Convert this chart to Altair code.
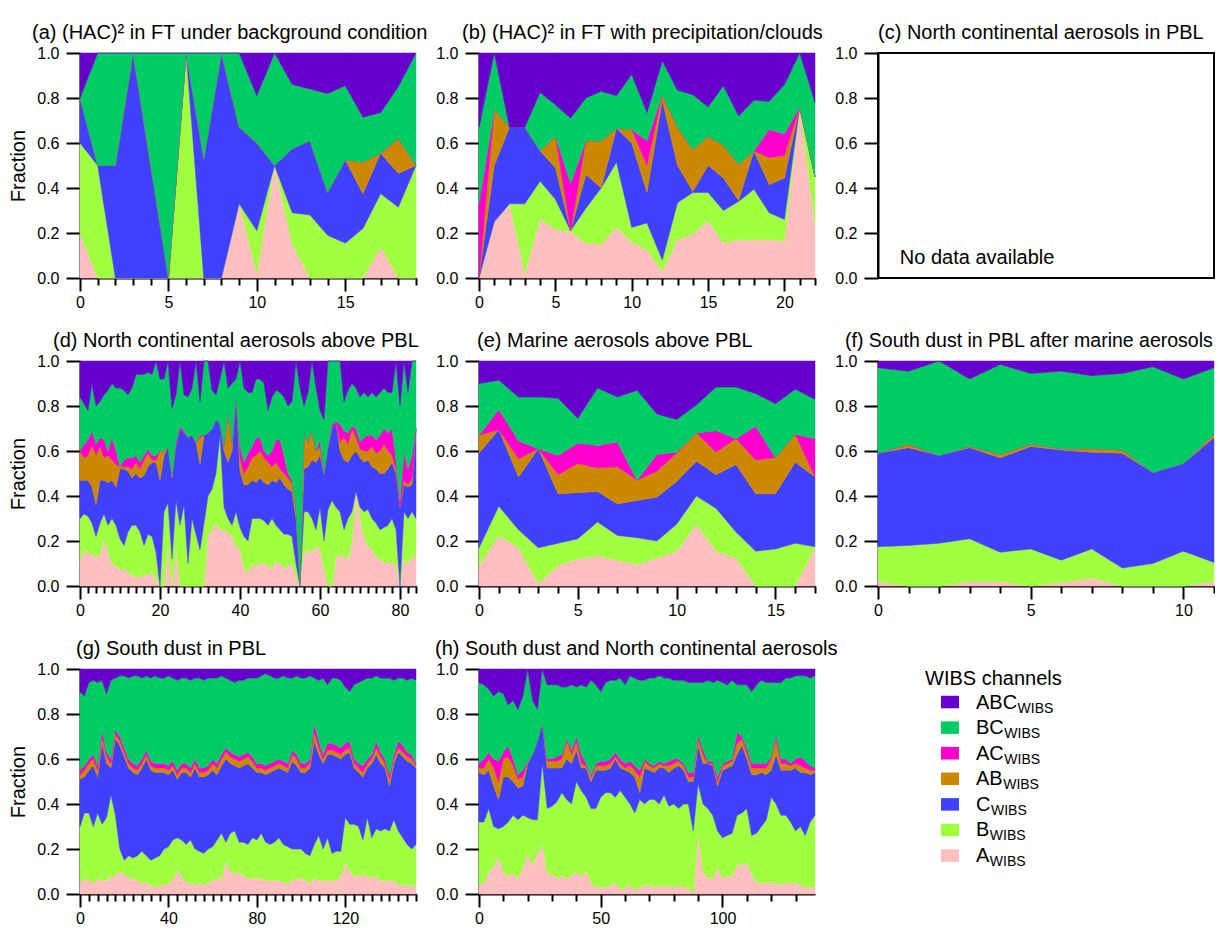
import altair as alt
import pandas as pd

FONT = "Liberation Sans"
BIG = 20
SMALL = 16
W, H = 336, 225

# channel order, bottom to top, and colours
CH = ["A", "B", "C", "AB", "AC", "BC", "ABC"]
COLORS = ["#FFBFBF", "#A0FF40", "#4040FF", "#CC8800", "#FF00CC", "#00CC66", "#6600CC"]
YT = [0, 0.2, 0.4, 0.6, 0.8, 1.0]

# ---------------- data: cumulative upper edge of each channel band (fraction) ----------------
# (a)
a_x = list(range(20))
a_A = [0.20,0.00,0.00,0.00,0.00,0.00,0.00,0.00,0.00,0.33,0.02,0.50,0.15,0.00,0.00,0.00,0.00,0.14,0.00,0.00]
a_B = [0.60,0.50,0.00,0.00,0.00,0.00,1.00,0.00,0.00,0.33,0.21,0.50,0.29,0.28,0.19,0.155,0.22,0.375,0.315,0.50]
a_C = [0.80,0.50,0.50,1.00,0.50,0.00,1.00,0.53,1.00,0.67,0.60,0.50,0.575,0.61,0.38,0.525,0.375,0.555,0.465,0.50]
a_AB = [0.80,0.50,0.50,1.00,0.50,0.00,1.00,0.53,1.00,0.67,0.60,0.50,0.575,0.61,0.38,0.525,0.515,0.555,0.62,0.50]
a_AC = [0.80,0.50,0.50,1.00,0.50,0.00,1.00,0.53,1.00,0.67,0.60,0.50,0.575,0.61,0.38,0.525,0.515,0.555,0.62,0.50]
a_BC = [0.80,1.00,1.00,1.00,1.00,1.00,1.00,1.00,1.00,1.00,0.81,1.00,0.86,0.84,0.82,0.855,0.715,0.735,0.85,1.00]

# (b)
b_x = list(range(23))
b_A = [0.00,0.25,0.33,0.02,0.265,0.215,0.205,0.155,0.15,0.225,0.16,0.125,0.03,0.17,0.195,0.255,0.155,0.17,0.17,0.17,0.165,0.76,0.24]
b_B = [0.00,0.25,0.33,0.33,0.43,0.35,0.21,0.31,0.40,0.515,0.225,0.245,0.08,0.335,0.38,0.38,0.30,0.34,0.395,0.29,0.26,0.76,0.45]
b_C = [0.00,0.50,0.67,0.67,0.565,0.49,0.21,0.46,0.40,0.665,0.60,0.38,0.79,0.50,0.385,0.50,0.445,0.345,0.565,0.415,0.445,0.76,0.45]
b_AB = [0.00,0.75,0.67,0.67,0.565,0.63,0.21,0.61,0.61,0.665,0.66,0.50,0.815,0.67,0.57,0.63,0.59,0.505,0.565,0.535,0.545,0.76,0.45]
b_AC = [0.33,0.75,0.67,0.67,0.565,0.63,0.42,0.61,0.61,0.665,0.66,0.61,0.815,0.67,0.57,0.63,0.59,0.505,0.565,0.66,0.64,0.76,0.45]
b_BC = [0.67,1.00,0.67,0.67,0.825,0.77,0.71,0.80,0.83,0.81,0.905,0.735,0.965,0.835,0.815,0.76,0.855,0.72,0.79,0.785,0.86,1.00,0.78]

# (d)
d_x = list(range(85))
d_A = [0.11,0.16,0.15,0.14,0.13,0.14,0.21,0.15,0.10,0.09,0.07,0.08,0.06,0.05,0.04,0.04,0.05,0.05,0.06,0.03,
       0.00,0.00,0.18,0.00,0.17,0.00,0.00,0.00,0.00,0.00,0.00,0.00,0.23,0.25,0.28,0.25,0.25,0.24,0.22,0.18,
       0.16,0.08,0.06,
       0.10,0.09,0.10,0.10,0.09,0.08,0.11,0.10,0.08,0.09,0.10,0.04,0.00,0.15,0.16,0.15,0.18,0.16,0.08,0.00,
       0.00,0.13,0.14,0.13,0.12,0.20,0.42,0.30,0.22,0.18,0.16,0.13,0.12,0.10,0.11,0.10,0.10,0.00,0.12,0.10,
       0.13,0.13]
d_B = [0.30,0.32,0.31,0.28,0.22,0.28,0.32,0.27,0.30,0.27,0.21,0.18,0.24,0.27,0.27,0.24,0.18,0.23,0.22,0.15,
       0.00,0.33,0.37,0.12,0.38,0.27,0.36,0.10,0.30,0.23,0.16,0.28,0.40,0.43,0.50,0.67,0.35,0.30,0.27,0.33,
       0.26,0.22,0.20,
       0.30,0.30,0.30,0.29,0.27,0.30,0.27,0.25,0.23,0.23,0.22,0.10,0.00,0.33,0.33,0.30,0.25,0.35,0.20,0.34,
       0.38,0.35,0.33,0.25,0.30,0.33,0.42,0.35,0.33,0.34,0.30,0.28,0.25,0.26,0.27,0.30,0.25,0.00,0.33,0.30,
       0.33,0.30]
d_C = [0.47,0.47,0.47,0.44,0.36,0.47,0.47,0.46,0.47,0.44,0.52,0.52,0.51,0.48,0.50,0.48,0.49,0.53,0.55,0.55,
       0.47,0.58,0.62,0.48,0.63,0.70,0.68,0.66,0.67,0.64,0.54,0.67,0.68,0.70,0.74,0.72,0.60,0.55,0.60,0.85,
       0.51,0.45,0.45,
       0.47,0.46,0.48,0.46,0.45,0.47,0.46,0.48,0.45,0.43,0.42,0.30,0.02,0.52,0.53,0.56,0.55,0.58,0.50,0.62,
       0.70,0.73,0.60,0.56,0.55,0.58,0.60,0.57,0.55,0.56,0.53,0.52,0.50,0.50,0.52,0.55,0.50,0.35,0.45,0.44,
       0.45,0.70]
d_AB = [0.60,0.57,0.58,0.63,0.58,0.62,0.57,0.58,0.56,0.54,0.53,0.53,0.53,0.52,0.55,0.52,0.56,0.59,0.56,0.56,
        0.60,0.60,0.62,0.49,0.63,0.70,0.68,0.66,0.67,0.64,0.66,0.67,0.68,0.70,0.74,0.72,0.62,0.77,0.64,0.85,
        0.57,0.50,0.53,
        0.57,0.58,0.60,0.57,0.55,0.53,0.55,0.52,0.50,0.48,0.46,0.35,0.02,0.68,0.64,0.69,0.60,0.62,0.50,0.62,
        0.70,0.73,0.64,0.66,0.63,0.70,0.66,0.61,0.60,0.60,0.62,0.59,0.60,0.63,0.60,0.58,0.52,0.35,0.47,0.45,
        0.48,0.70]
d_AC = [0.60,0.63,0.65,0.69,0.63,0.66,0.65,0.60,0.66,0.60,0.53,0.56,0.57,0.57,0.58,0.55,0.58,0.61,0.58,0.58,
        0.60,0.60,0.62,0.49,0.64,0.71,0.69,0.66,0.67,0.64,0.67,0.67,0.68,0.70,0.74,0.72,0.62,0.77,0.64,0.85,
        0.62,0.55,0.59,
        0.62,0.66,0.66,0.60,0.58,0.60,0.65,0.65,0.58,0.50,0.47,0.35,0.02,0.68,0.64,0.69,0.60,0.65,0.50,0.62,
        0.72,0.73,0.72,0.69,0.68,0.71,0.70,0.64,0.66,0.67,0.67,0.65,0.67,0.70,0.68,0.70,0.56,0.38,0.60,0.52,
        0.58,0.70]
d_BC = [0.84,0.81,0.78,0.90,0.80,0.82,0.85,0.87,0.90,0.88,0.88,0.87,0.85,0.88,0.94,0.94,0.94,0.95,0.94,1.00,
        0.92,0.92,1.00,0.79,0.85,1.00,0.85,0.84,0.88,1.00,0.82,1.00,1.00,0.87,0.85,0.92,1.00,0.88,0.90,0.92,
        1.00,0.88,0.86,
        0.86,0.92,0.92,0.90,0.78,0.84,0.87,0.86,0.84,0.80,0.82,1.00,0.88,0.80,0.86,1.00,0.88,0.78,0.74,1.00,
        1.00,1.00,1.00,0.82,0.87,0.90,0.88,0.84,0.86,0.84,0.86,0.84,0.86,0.88,0.86,0.86,1.00,0.80,1.00,0.86,
        1.00,1.00]

# (e)
e_x = list(range(18))
e_A = [0.09,0.225,0.17,0.01,0.09,0.12,0.135,0.115,0.095,0.125,0.155,0.275,0.155,0.125,0.00,0.00,0.00,0.175]
e_B = [0.17,0.355,0.25,0.17,0.19,0.21,0.285,0.225,0.215,0.20,0.275,0.40,0.345,0.24,0.155,0.165,0.19,0.175]
e_C = [0.59,0.695,0.485,0.61,0.41,0.415,0.42,0.365,0.38,0.395,0.465,0.555,0.495,0.54,0.41,0.41,0.55,0.485]
e_AB = [0.67,0.695,0.565,0.61,0.495,0.545,0.525,0.53,0.47,0.51,0.59,0.68,0.595,0.655,0.56,0.57,0.675,0.485]
e_AC = [0.67,0.785,0.645,0.61,0.58,0.635,0.625,0.64,0.47,0.585,0.595,0.68,0.69,0.655,0.71,0.57,0.675,0.655]
e_BC = [0.90,0.915,0.84,0.84,0.835,0.745,0.88,0.84,0.87,0.765,0.74,0.805,0.885,0.885,0.855,0.81,0.875,0.83]

# (f)
f_x = list(range(12))
f_A = [0.02,0.00,0.00,0.02,0.02,0.00,0.015,0.035,0.00,0.00,0.00,0.02]
f_B = [0.175,0.18,0.19,0.21,0.15,0.165,0.115,0.165,0.08,0.10,0.155,0.105]
f_C = [0.59,0.615,0.58,0.615,0.57,0.62,0.605,0.595,0.59,0.505,0.545,0.66]
f_AB = [0.59,0.63,0.58,0.62,0.585,0.63,0.61,0.61,0.605,0.505,0.545,0.675]
f_AC = [0.59,0.63,0.58,0.62,0.585,0.63,0.61,0.61,0.605,0.505,0.545,0.675]
f_BC = [0.97,0.955,1.00,0.92,0.985,0.945,0.955,0.935,0.945,0.975,0.92,0.97]

# (g)  sampled every 2nd point
g_x = list(range(0, 153, 2))
g_A = [0.05,0.07,0.06,0.05,0.07,0.06,0.06,0.08,0.08,0.10, 0.09,0.07,0.07,0.06,0.05,0.05,0.04,0.03,0.04,0.04,
       0.05,0.06,0.11,0.08,0.05,0.05,0.04,0.05,0.04,0.05, 0.06,0.07,0.07,0.15,0.10,0.09,0.10,0.08,0.07,0.07,
       0.07,0.07,0.06,0.06,0.06,0.06,0.05,0.05,0.06,0.07, 0.07,0.06,0.05,0.07,0.06,0.06,0.06,0.06,0.06,0.08,
       0.14,0.10,0.08,0.08,0.09,0.08,0.07,0.08,0.06,0.06, 0.06,0.06,0.04,0.04,0.04,0.04,0.03]
g_B = [0.30,0.36,0.36,0.30,0.36,0.31,0.34,0.44,0.35,0.20, 0.15,0.17,0.16,0.17,0.19,0.17,0.15,0.16,0.17,0.20,
       0.21,0.24,0.25,0.24,0.22,0.24,0.20,0.19,0.18,0.20, 0.21,0.24,0.27,0.23,0.27,0.28,0.23,0.23,0.22,0.25,
       0.24,0.27,0.23,0.22,0.23,0.25,0.22,0.21,0.20,0.20, 0.20,0.18,0.17,0.22,0.26,0.20,0.25,0.18,0.19,0.19,
       0.34,0.31,0.31,0.30,0.24,0.34,0.25,0.29,0.28,0.29, 0.28,0.33,0.28,0.25,0.22,0.20,0.22]
g_C = [0.51,0.52,0.55,0.57,0.52,0.67,0.58,0.56,0.69,0.66, 0.61,0.56,0.54,0.53,0.56,0.60,0.55,0.54,0.54,0.54,
       0.53,0.55,0.51,0.54,0.54,0.52,0.56,0.52,0.52,0.53, 0.55,0.53,0.57,0.60,0.58,0.57,0.56,0.57,0.58,0.56,
       0.54,0.54,0.53,0.54,0.55,0.56,0.55,0.54,0.59,0.57, 0.54,0.54,0.56,0.68,0.62,0.58,0.62,0.62,0.61,0.60,
       0.62,0.63,0.56,0.54,0.52,0.56,0.58,0.62,0.58,0.56, 0.48,0.58,0.63,0.61,0.59,0.58,0.56]
g_AB = [0.53,0.55,0.58,0.60,0.55,0.70,0.61,0.58,0.71,0.68, 0.63,0.58,0.56,0.55,0.58,0.62,0.57,0.56,0.56,0.56,
        0.55,0.57,0.53,0.56,0.56,0.54,0.58,0.54,0.54,0.55, 0.58,0.56,0.60,0.63,0.61,0.60,0.59,0.60,0.61,0.59,
        0.56,0.56,0.55,0.56,0.57,0.58,0.57,0.56,0.62,0.60, 0.56,0.56,0.58,0.72,0.65,0.60,0.64,0.64,0.63,0.62,
        0.64,0.65,0.58,0.56,0.54,0.58,0.60,0.65,0.61,0.58, 0.51,0.60,0.65,0.63,0.61,0.60,0.57]
g_AC = [0.55,0.57,0.60,0.62,0.57,0.73,0.63,0.60,0.73,0.70, 0.65,0.60,0.58,0.57,0.60,0.64,0.59,0.58,0.58,0.58,
        0.57,0.59,0.55,0.58,0.58,0.56,0.60,0.56,0.56,0.57, 0.60,0.58,0.62,0.65,0.63,0.62,0.61,0.62,0.63,0.61,
        0.58,0.58,0.57,0.58,0.59,0.60,0.59,0.58,0.64,0.62, 0.58,0.58,0.60,0.76,0.68,0.62,0.67,0.67,0.66,0.65,
        0.67,0.68,0.60,0.58,0.57,0.60,0.62,0.68,0.63,0.60, 0.53,0.62,0.68,0.66,0.63,0.62,0.58]
g_BC = [0.90,0.88,0.94,0.95,0.94,0.95,0.89,0.95,0.96,0.97, 0.97,0.96,0.97,0.97,0.96,0.97,0.96,0.97,0.96,0.96,
        0.97,0.96,0.95,0.96,0.96,0.95,0.96,0.96,0.95,0.96, 0.96,0.96,0.97,0.96,0.95,0.94,0.95,0.95,0.96,0.96,
        0.96,0.97,0.98,0.97,0.96,0.96,0.97,0.96,0.96,0.97, 0.96,0.96,0.97,0.96,0.95,0.96,0.93,0.96,0.96,0.95,
        0.92,0.90,0.93,0.94,0.95,0.96,0.96,0.97,0.96,0.96, 0.96,0.95,0.96,0.96,0.95,0.96,0.95]

# (h)  sampled every 2nd point
h_x = list(range(0, 139, 2))
h_A = [0.04,0.05,0.10,0.12,0.17,0.10,0.08,0.09,0.07,0.12, 0.18,0.13,0.18,0.22,0.09,0.09,0.07,0.08,0.07,0.08,
       0.10,0.08,0.10,0.05,0.03,0.03,0.03,0.04,0.05,0.02, 0.03,0.04,0.02,0.03,0.04,0.04,0.03,0.04,0.03,0.04,
       0.03,0.04,0.03,0.03,0.00,0.27,0.10,0.07,0.07,0.12, 0.07,0.08,0.08,0.13,0.13,0.14,0.09,0.05,0.05,0.05,
       0.05,0.05,0.04,0.05,0.05,0.05,0.04,0.03,0.03,0.03]
h_B = [0.32,0.32,0.38,0.30,0.29,0.30,0.32,0.35,0.33,0.35, 0.34,0.33,0.33,0.58,0.38,0.39,0.41,0.45,0.42,0.40,
       0.50,0.46,0.43,0.38,0.38,0.43,0.45,0.45,0.43,0.46, 0.43,0.40,0.36,0.42,0.40,0.42,0.42,0.40,0.44,0.39,
       0.40,0.38,0.40,0.40,0.28,0.49,0.40,0.38,0.35,0.28, 0.25,0.26,0.27,0.35,0.36,0.38,0.26,0.27,0.30,0.33,
       0.43,0.40,0.35,0.35,0.32,0.28,0.30,0.26,0.32,0.35]
h_C = [0.54,0.53,0.55,0.48,0.42,0.52,0.52,0.50,0.47,0.48, 0.58,0.62,0.68,0.76,0.56,0.56,0.56,0.56,0.60,0.58,
       0.64,0.56,0.56,0.50,0.55,0.55,0.55,0.56,0.60,0.56, 0.55,0.54,0.52,0.45,0.56,0.55,0.54,0.56,0.56,0.54,
       0.56,0.57,0.55,0.50,0.50,0.66,0.58,0.58,0.57,0.48, 0.55,0.56,0.57,0.62,0.66,0.60,0.53,0.53,0.54,0.53,
       0.55,0.62,0.55,0.55,0.55,0.56,0.54,0.54,0.53,0.54]
h_AB = [0.56,0.56,0.60,0.56,0.50,0.60,0.61,0.57,0.51,0.52, 0.59,0.62,0.68,0.76,0.59,0.59,0.59,0.60,0.68,0.62,
        0.68,0.58,0.57,0.52,0.57,0.57,0.57,0.58,0.61,0.58, 0.56,0.57,0.55,0.52,0.59,0.57,0.56,0.58,0.57,0.57,
        0.58,0.59,0.57,0.52,0.52,0.69,0.62,0.58,0.58,0.50, 0.57,0.58,0.59,0.67,0.69,0.63,0.56,0.56,0.56,0.56,
        0.60,0.69,0.58,0.58,0.57,0.58,0.57,0.56,0.55,0.55]
h_AC = [0.58,0.60,0.63,0.60,0.59,0.63,0.66,0.60,0.53,0.55, 0.59,0.62,0.68,0.76,0.60,0.60,0.61,0.62,0.69,0.64,
        0.70,0.62,0.58,0.53,0.58,0.59,0.59,0.60,0.63,0.60, 0.58,0.59,0.57,0.55,0.60,0.58,0.57,0.59,0.58,0.59,
        0.60,0.60,0.58,0.54,0.54,0.71,0.64,0.59,0.59,0.52, 0.58,0.59,0.60,0.72,0.70,0.65,0.58,0.58,0.58,0.58,
        0.61,0.71,0.60,0.60,0.58,0.60,0.61,0.59,0.57,0.56]
h_BC = [0.94,0.93,0.91,0.88,0.90,0.89,0.84,0.86,0.82,0.88, 1.00,0.86,0.82,1.00,0.93,0.93,0.93,0.92,0.92,0.93,
        0.92,0.93,0.92,0.95,0.93,0.90,0.94,0.95,0.95,0.96, 0.93,0.97,0.96,0.95,0.95,0.96,0.96,0.97,0.96,0.96,
        0.95,0.95,0.95,0.94,0.94,0.94,0.94,0.95,0.94,0.95, 0.94,0.93,0.95,0.93,0.93,0.93,0.90,0.93,0.95,0.94,
        0.94,0.94,0.94,0.96,0.96,0.97,0.97,0.97,0.96,0.97]

TITLES = {
    "a": "(a) (HAC)\u00b2 in FT under background condition",
    "b": "(b) (HAC)\u00b2 in FT with precipitation/clouds",
    "c": "(c) North continental aerosols in PBL",
    "d": "(d) North continental aerosols above PBL",
    "e": "(e) Marine aerosols above PBL",
    "f": "(f) South dust in PBL after marine aerosols",
    "g": "(g) South dust in PBL",
    "h": "(h) South dust and North continental aerosols",
}

LEG_ORDER = ["ABC", "BC", "AC", "AB", "C", "B", "A"]


def build(x, tops):
    for arr in tops:
        assert len(arr) == len(x), (len(arr), len(x))
    rows = []
    for k, xv in enumerate(x):
        lo = 0.0
        for name, arr in zip(CH, list(tops) + [None]):
            hi = 1.0 if arr is None else min(max(arr[k], lo), 1.0)
            rows.append({"x": xv, "ch": name, "lo": lo, "hi": hi})
            lo = hi
    return pd.DataFrame(rows)


CSCALE = alt.Scale(domain=CH, range=COLORS)


def yaxis(title=None):
    return alt.Axis(values=YT, format=".1f", title=title, tickSize=14, labelPadding=7,
                    grid=False, titlePadding=8)


def area_panel(df, dom, ticks, major, title, dx, ytitle=None, tsize=BIG):
    xaxis = alt.Axis(
        values=ticks, title=None, grid=False, labelFlush=False, labelOverlap=False,
        tickSize={"condition": {"test": f"datum.value % {major} === 0", "value": 13}, "value": 7},
        labelExpr=f"datum.value % {major} === 0 ? datum.label : ''",
        labelPadding=3,
    )
    return alt.Chart(df).mark_area(strokeWidth=0.5).encode(
        x=alt.X("x:Q", scale=alt.Scale(domain=dom, nice=False, zero=False), axis=xaxis),
        y=alt.Y("lo:Q", scale=alt.Scale(domain=[0, 1], nice=False), axis=yaxis(ytitle), stack=None),
        y2="hi:Q",
        color=alt.Color("ch:N", scale=CSCALE, legend=None),
        stroke=alt.Stroke("ch:N", scale=CSCALE, legend=None),
    ).properties(width=W, height=H, title=alt.Title(title, dx=dx, fontSize=tsize))


pa = area_panel(build(a_x, [a_A, a_B, a_C, a_AB, a_AC, a_BC]), [0, 19], list(range(20)), 5, TITLES["a"], -48, "Fraction")
pb = area_panel(build(b_x, [b_A, b_B, b_C, b_AB, b_AC, b_BC]), [0, 22], list(range(23)), 5, TITLES["b"], -17)
pd_ = area_panel(build(d_x, [d_A, d_B, d_C, d_AB, d_AC, d_BC]), [0, 84], list(range(0, 85, 2)), 20, TITLES["d"], -27, "Fraction")
pe = area_panel(build(e_x, [e_A, e_B, e_C, e_AB, e_AC, e_BC]), [0, 17], list(range(18)), 5, TITLES["e"], -2)
pf = area_panel(build(f_x, [f_A, f_B, f_C, f_AB, f_AC, f_BC]), [0, 11], list(range(12)), 5, TITLES["f"], -33, None, 19.5)
pg = area_panel(build(g_x, [g_A, g_B, g_C, g_AB, g_AC, g_BC]), [0, 152], list(range(0, 153, 4)), 40, TITLES["g"], -4, "Fraction")
ph = area_panel(build(h_x, [h_A, h_B, h_C, h_AB, h_AC, h_BC]), [0, 138], list(range(0, 139, 10)), 50, TITLES["h"], -44)

# (c) empty panel
c_note = pd.DataFrame({"px": [0.065], "py": [0.09], "note": ["No data available"]})
pc = alt.Chart(c_note).mark_text(align="left", baseline="middle", fontSize=BIG, font=FONT, color="black").encode(
    x=alt.X("px:Q", scale=alt.Scale(domain=[0, 1], nice=False), axis=None),
    y=alt.Y("py:Q", scale=alt.Scale(domain=[0, 1], nice=False), axis=yaxis()),
    text="note:N",
).properties(width=W, height=H, title=alt.Title(TITLES["c"], dx=0),
             view=alt.ViewBackground(stroke="black", strokeWidth=2))

# custom legend
ADV = {"A": 0.667, "B": 0.667, "C": 0.722}
LX = 98
leg_df = pd.DataFrame({
    "ch": LEG_ORDER,
    "sub": ["WIBS"] * len(LEG_ORDER),
    "subx": [LX + sum(ADV[c] for c in ch) * BIG + 0.5 for ch in LEG_ORDER],
})
yband = alt.Scale(domain=LEG_ORDER, range=[26.75, 192.85], paddingInner=0.51, paddingOuter=0)
swatch = alt.Chart(leg_df).mark_rect().encode(
    x=alt.value(63), x2=alt.value(81),
    y=alt.Y("ch:N", scale=yband, axis=None, sort=LEG_ORDER),
    color=alt.Color("ch:N", scale=CSCALE, legend=None),
)
main_lbl = alt.Chart(leg_df).mark_text(align="left", baseline="alphabetic", dy=6.5, fontSize=BIG,
                                       font=FONT, color="black").encode(
    x=alt.value(LX), y=alt.Y("ch:N", scale=yband, axis=None, sort=LEG_ORDER), text="ch:N")
sub_lbl = alt.Chart(leg_df).mark_text(align="left", baseline="alphabetic", dy=10.5, fontSize=14,
                                      font=FONT, color="black").encode(
    x=alt.X("subx:Q", scale=None), y=alt.Y("ch:N", scale=yband, axis=None, sort=LEG_ORDER), text="sub:N")
leg_title = alt.Chart(pd.DataFrame({"t": ["WIBS channels"]})).mark_text(
    align="left", baseline="middle", fontSize=BIG, font=FONT, color="black").encode(
    x=alt.value(47), y=alt.value(10), text="t:N")
legend = alt.layer(swatch, main_lbl, sub_lbl, leg_title).properties(width=W, height=H)

chart = alt.concat(
    pa, pb, pc, pd_, pe, pf, pg, ph, legend,
    columns=3, spacing={"row": 83, "column": 63}, bounds="flush",
).properties(
    padding={"left": 0, "top": 14, "right": 0, "bottom": 0}, background="white"
).configure_view(stroke=None).configure_axis(
    domainColor="black", domainWidth=2, tickColor="black", tickWidth=2,
    labelColor="black", labelFont=FONT, labelFontSize=SMALL,
    titleColor="black", titleFont=FONT, titleFontSize=BIG, titleFontWeight="normal",
).configure_title(
    font=FONT, fontSize=BIG, fontWeight="normal", color="black", anchor="start",
    frame="group", baseline="alphabetic", offset=2,
)

chart.save("out.html", embed_options={"renderer": "svg", "actions": False})
